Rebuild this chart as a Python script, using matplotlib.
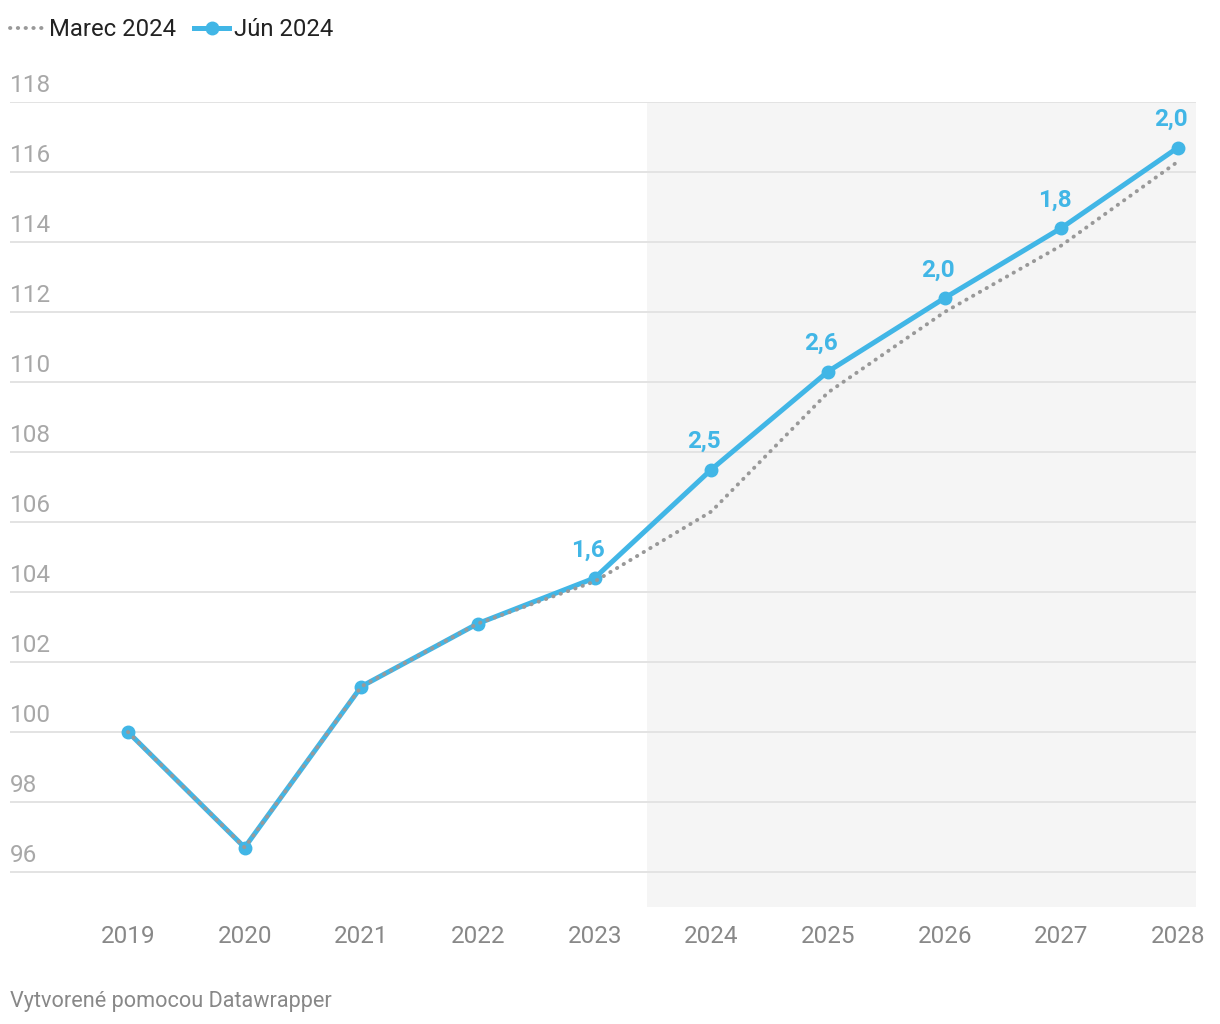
import matplotlib
matplotlib.use('Agg')
import matplotlib.pyplot as plt
from matplotlib.lines import Line2D

plt.rcParams['font.family'] = ['Roboto', 'DejaVu Sans']

years = [2019, 2020, 2021, 2022, 2023, 2024, 2025, 2026, 2027, 2028]
jun_2024 = [100.0, 96.7, 101.3, 103.1, 104.4, 107.5, 110.3, 112.4, 114.4, 116.7]
marec_2024 = [100.0, 96.7, 101.3, 103.1, 104.3, 106.3, 109.7, 112.0, 113.9, 116.3]
growth_years = [2023, 2024, 2025, 2026, 2027, 2028]
growth_labels = ['1,6', '2,5', '2,6', '2,0', '1,8', '2,0']
yticks = [96, 98, 100, 102, 104, 106, 108, 110, 112, 114, 116, 118]

blue = '#41b6e6'
grey = '#999999'
dots = (0, (0.1, 1.9))

fig = plt.figure(figsize=(12.2, 10.24), dpi=100)
ax = fig.add_axes([10/1220, 1-907/1024, 1186/1220, 805/1024])
ax.set_xlim(2019 - 118/116.67, 2028 + 18/116.67)
ax.set_ylim(95, 118)

# forecast shading
ax.axvspan(2023.45, 2030, color='#f5f5f5', zorder=0, lw=0)

for t in yticks:
    ax.axhline(t, color='#e3e3e3', lw=1.4, zorder=1)
    ax.text(0, t + 0.46, str(t), transform=ax.get_yaxis_transform(),
            ha='left', va='center', fontsize=17.5, color='#a8a8a8')

ax.plot(years, jun_2024, color=blue, lw=3.6, marker='o', ms=9,
        solid_capstyle='round', zorder=3)
ax.plot(years, marec_2024, color=grey, lw=2.8, ls=dots,
        dash_capstyle='round', zorder=4)

for yr, lab in zip(growth_years, growth_labels):
    v = jun_2024[years.index(yr)]
    ax.annotate(lab, (yr, v), xytext=(-5, 20), textcoords='offset points',
                ha='center', va='center', fontsize=17.5, fontweight='bold',
                color=blue, zorder=5)

ax.set_xticks(years)
ax.set_xticklabels([str(y) for y in years])
ax.tick_params(axis='x', length=0, pad=13, labelsize=17.5, labelcolor='#888888')
ax.set_yticks([])
for s in ax.spines.values():
    s.set_visible(False)

handles = [Line2D([], [], color=grey, lw=2.8, ls=dots, dash_capstyle='round'),
           Line2D([], [], color=blue, lw=3.6, marker='o', ms=9)]
fig.legend(handles, ['Marec 2024', 'Jún 2024'], loc='center left',
           bbox_to_anchor=(10/1220, 1-30/1024), ncol=2, frameon=False,
           fontsize=17.2, labelcolor='#222222', handlelength=1.45,
           handletextpad=0.2, columnspacing=0.75, borderaxespad=0, borderpad=0.0)

fig.text(10/1220, 1-1001/1024, 'Vytvorené pomocou Datawrapper', ha='left',
         va='center', fontsize=15.6, color='#888888')

fig.savefig('out.png', dpi=100, facecolor='white')
